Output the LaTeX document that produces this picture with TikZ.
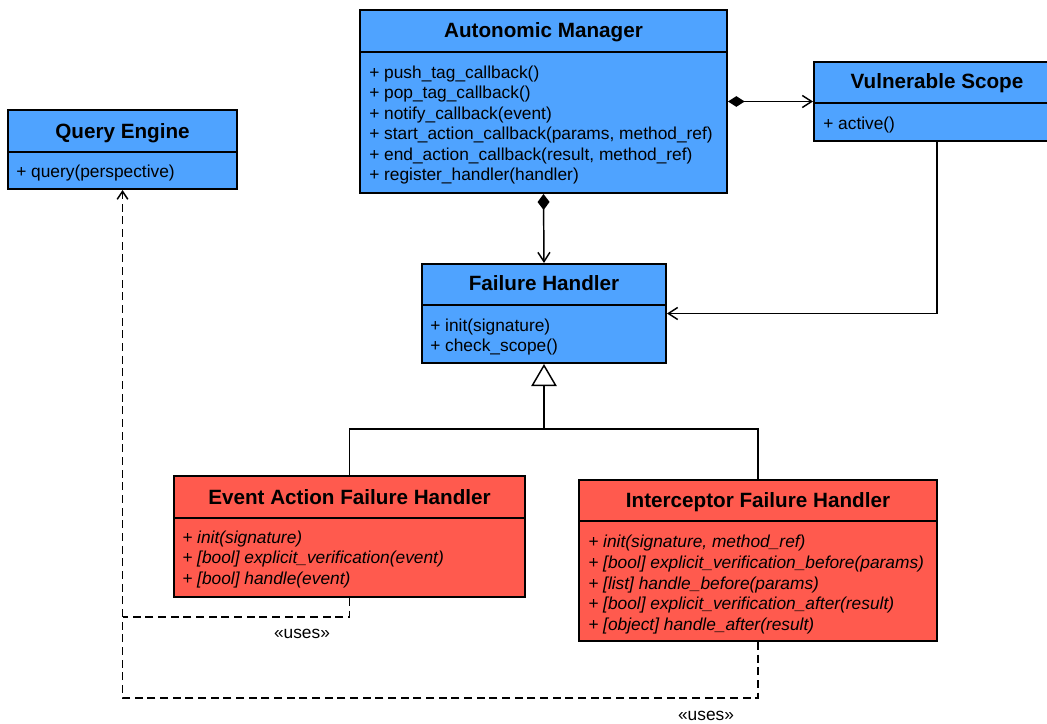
\documentclass[tikz,border=0pt]{standalone}
\usepackage{fontspec}
\setmainfont{Liberation Sans}
\usetikzlibrary{arrows.meta,fit}
\definecolor{umlblue}{RGB}{79,163,255}
\definecolor{umlred}{RGB}{255,90,78}

\begin{document}
\begin{tikzpicture}[x=0.75pt,y=-0.75pt,
  classbox/.style={draw=black, line width=1.5pt, inner sep=0pt},
  bluecls/.style={classbox, fill=umlblue},
  redcls/.style={classbox, fill=umlred},
  divider/.style={line width=1.5pt},
  clstitle/.style={font=\fontsize{15.5}{18}\selectfont\bfseries, inner sep=0pt, anchor=base},
  members/.style={font=\fontsize{13}{15.4}\selectfont, align=left, anchor=north west, inner sep=0pt},
  imembers/.style={font=\fontsize{13}{15.5}\selectfont\itshape, align=left, anchor=north west, inner sep=0pt},
  link/.style={line width=1.1pt},
  uses/.style={line width=1.2pt, dash pattern=on 6pt off 3.5pt},
  stereo/.style={font=\fontsize{13}{15}\selectfont, inner sep=0pt},
  barb/.style={-{Straight Barb[length=7pt,width=9pt,line width=1.1pt]}},
]
\useasboundingbox (0,0) rectangle (1047,724);
\clip (0,0) rectangle (1047,724);

% ---- classes ----
\node[bluecls, fit={(360,10) (727,193)}] (am) {};
\draw[divider] (am.west |- 0,52) -- (am.east |- 0,52);
\node[clstitle] (amt) at (543.5,37.5) {Autonomic Manager};
\node[members] (amm) at (369,65.5) {+ push\_tag\_callback()\\
+ pop\_tag\_callback()\\
+ notify\_callback(event)\\
+ start\_action\_callback(params, method\_ref)\\
+ end\_action\_callback(result, method\_ref)\\
+ register\_handler(handler)};

\node[bluecls, fit={(814,62) (1060,141)}] (vs) {};
\draw[divider] (vs.west |- 0,103) -- (vs.east |- 0,103);
\node[clstitle] (vst) at (937,89) {Vulnerable Scope};
\node[members] (vsm) at (823,116.5) {+ active()};

\node[bluecls, fit={(8,110) (237,189)}] (qe) {};
\draw[divider] (qe.west |- 0,152) -- (qe.east |- 0,152);
\node[clstitle] (qet) at (122.5,138) {Query Engine};
\node[members] (qem) at (16,164.5) {+ query(perspective)};

\node[bluecls, fit={(422,264) (666,363)}] (fh) {};
\draw[divider] (fh.west |- 0,305) -- (fh.east |- 0,305);
\node[clstitle] (fht) at (544,290) {Failure Handler};
\node[members] (fhm) at (430,318.5) {+ init(signature)\\
+ check\_scope()};

\node[redcls, fit={(174,476) (525,597)}] (eafh) {};
\draw[divider] (eafh.west |- 0,518) -- (eafh.east |- 0,518);
\node[clstitle] (eaft) at (349.5,504) {Event Action Failure Handler};
\node[imembers] (eafm) at (182,530.5) {+ init(signature)\\
+ [bool] explicit\_verification(event)\\
+ [bool] handle(event)};

\node[redcls, fit={(579,480) (937,641)}] (ifh) {};
\draw[divider] (ifh.west |- 0,521) -- (ifh.east |- 0,521);
\node[clstitle] (ifht) at (758,507) {Interceptor Failure Handler};
\node[imembers] (ifhm) at (588,535) {+ init(signature, method\_ref)\\
+ [bool] explicit\_verification\_before(params)\\
+ [list] handle\_before(params)\\
+ [bool] explicit\_verification\_after(result)\\
+ [object] handle\_after(result)};

% ---- composition and association ----
\draw[link, {Diamond[length=12.5pt,width=8pt]}-{Straight Barb[length=7pt,width=9pt,line width=1.1pt]}]
  (am.east) -- (vs.west |- am.east);
\draw[link, {Diamond[length=12pt,width=9pt]}-{Straight Barb[length=7pt,width=9pt,line width=1.1pt]}]
  (am.south) -- (fh.north);
\draw[link, barb] (vs.south) |- (fh.east);

% ---- generalisation ----
\coordinate (hub) at (544,429);
\draw[link] (eafh.north) |- (hub) -| (ifh.north);
\draw[link, -{Triangle[open,length=16.5pt,width=19pt,fill=white,line width=1.1pt]}] (hub) -- (fh.south);

% ---- dependencies ----
\coordinate (bend) at (qe.south |- 0,698);
\coordinate (join) at (qe.south |- 0,617);
\draw[uses, -{Straight Barb[length=6pt,width=8pt,line width=1.1pt]}] (ifh.south) |- (bend) -- (qe.south);
\draw[uses] (eafh.south) |- (join);
\node[stereo] (u1) at (302,634) {«uses»};
\node[stereo] (u2) at (706,716) {«uses»};
\end{tikzpicture}
\end{document}
